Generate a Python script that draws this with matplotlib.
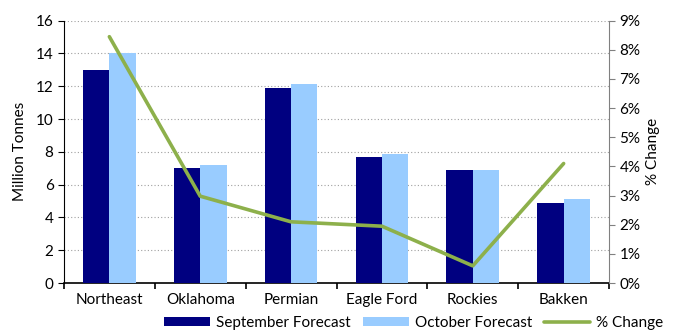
import matplotlib.pyplot as plt
import matplotlib.ticker as mtick
import numpy as np

plt.rcParams['font.family'] = ['Lato', 'DejaVu Sans']

regions = ['Northeast', 'Oklahoma', 'Permian', 'Eagle Ford', 'Rockies', 'Bakken']
sept = [13.0, 7.0, 11.9, 7.7, 6.9, 4.9]
octo = [14.05, 7.2, 12.15, 7.85, 6.9, 5.1]
pct_change = [8.45, 2.98, 2.1, 1.95, 0.59, 4.1]


def main():
    x = np.arange(len(regions))
    w = 0.29

    fig = plt.figure(figsize=(6.73, 3.33), dpi=100)
    ax = fig.add_axes([0.095, 0.15, 0.81, 0.788])
    ax2 = ax.twinx()

    b1 = ax.bar(x - w/2, sept, w, color='#000080', label='September Forecast', zorder=3)
    b2 = ax.bar(x + w/2, octo, w, color='#99CCFF', label='October Forecast', zorder=3)
    ln, = ax2.plot(x, pct_change, color='#8DB04B', lw=2.6, label='% Change',
                   solid_capstyle='round')

    ax.set_xlim(-0.5, len(regions) - 0.5)
    ax.set_ylim(0, 16)
    ax.set_yticks(range(0, 17, 2))
    ax2.set_ylim(0, 9)
    ax2.set_yticks(range(0, 10))
    ax2.yaxis.set_major_formatter(mtick.FuncFormatter(lambda v, p: f'{v:.0f}%'))

    ax.yaxis.grid(True, ls=(0, (1, 2)), color='#A0A0A0', lw=0.8, zorder=0)

    # boundary ticks on x, labels at centres
    ax.set_xticks(np.arange(-0.5, len(regions), 1.0))
    ax.set_xticklabels([])
    ax.set_xticks(x, minor=True)
    ax.set_xticklabels(regions, minor=True)
    fs = 11
    ax.tick_params(axis='x', which='major', length=4, width=1.2, direction='out')
    ax.tick_params(axis='x', which='minor', length=0, pad=7, labelsize=fs)
    ax.tick_params(axis='y', length=4, direction='out', labelsize=fs)
    ax2.tick_params(axis='y', length=4, direction='out', labelsize=fs, color='#808080')

    ax.set_ylabel('Million Tonnes', fontsize=fs, labelpad=6)
    ax2.set_ylabel('% Change', fontsize=fs)

    for a in (ax, ax2):
        a.spines['top'].set_visible(False)
    ax.spines['right'].set_visible(False)
    ax2.spines['left'].set_visible(False)
    ax2.spines['bottom'].set_visible(False)
    ax2.spines['right'].set_color('#808080')
    ax.spines['left'].set_color('black')
    ax.spines['bottom'].set_linewidth(1.2)

    ax.set_zorder(ax2.get_zorder() - 1)
    ax.patch.set_visible(False)

    fig.legend([b1, b2, ln], ['September Forecast', 'October Forecast', '% Change'],
               loc='center', bbox_to_anchor=(0.615, 0.03), ncol=3, frameon=False,
               fontsize=fs, handlelength=3.0, handleheight=0.6, columnspacing=0.8,
               handletextpad=0.4, borderaxespad=0, borderpad=0)

    fig.savefig('out.png', dpi=100)


if __name__ == "__main__":
    main()
